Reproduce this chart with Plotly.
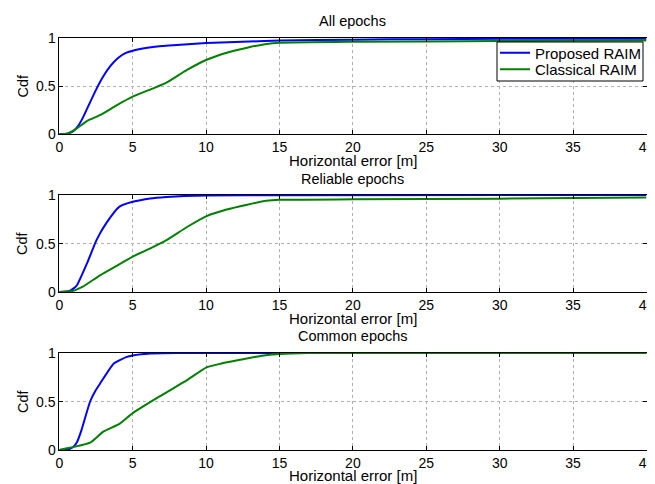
import plotly.graph_objects as go

# ---- data ----
titles = ["All epochs", "Reliable epochs", "Common epochs"]
series_names = ["Proposed RAIM", "Classical RAIM"]
x_ticks = [0, 5, 10, 15, 20, 25, 30, 35, 40]
y_ticks = [0, 0.5, 1]
y_tick_text = ["0", "0.5", "1"]

prop_all_x = [0, 0.5, 0.8, 1.0, 1.3, 1.6, 2.0, 2.5, 3.0, 3.5, 4.0, 4.5, 5, 6, 7, 8, 10, 12, 15, 20, 25, 30, 40]
prop_all_y = [0, 0.005, 0.02, 0.04, 0.09, 0.17, 0.30, 0.46, 0.60, 0.71, 0.79, 0.84, 0.865, 0.895, 0.915, 0.925, 0.945, 0.955, 0.97, 0.98, 0.985, 0.988, 0.99]
clas_all_x = [0, 0.6, 1.2, 1.9, 2.8, 3.9, 5.0, 6.4, 7.3, 8.7, 10.0, 11.4, 12.8, 14.1, 15, 20, 30, 40]
clas_all_y = [0, 0.01, 0.062, 0.14, 0.20, 0.30, 0.39, 0.476, 0.534, 0.666, 0.769, 0.845, 0.897, 0.935, 0.948, 0.958, 0.965, 0.97]

prop_rel_x = [0, 0.7, 1.0, 1.2, 1.9, 2.55, 3.2, 4.1, 5.0, 6.2, 7.3, 8.5, 10, 15, 40]
prop_rel_y = [0, 0.01, 0.04, 0.07, 0.30, 0.54, 0.71, 0.88, 0.93, 0.965, 0.98, 0.99, 0.995, 0.998, 1.0]
clas_rel_x = [0, 0.9, 1.6, 2.8, 3.9, 5.0, 6.2, 7.3, 8.7, 10.0, 11.4, 12.8, 14.1, 15, 20, 30, 40]
clas_rel_y = [0, 0.01, 0.055, 0.175, 0.27, 0.365, 0.45, 0.535, 0.67, 0.78, 0.85, 0.90, 0.94, 0.95, 0.955, 0.962, 0.975]

prop_com_x = [0, 0.7, 1.0, 1.2, 1.5, 2.1, 2.5, 2.8, 3.7, 4.6, 5.0, 6.2, 8, 40]
prop_com_y = [0, 0.01, 0.04, 0.08, 0.20, 0.50, 0.62, 0.69, 0.89, 0.96, 0.975, 0.995, 1.0, 1.0]
clas_com_x = [0, 0.95, 2.1, 3.0, 4.1, 5.0, 6.8, 8.7, 10.0, 11.0, 12.3, 13.7, 15, 17, 28, 40]
clas_com_y = [0, 0.03, 0.075, 0.19, 0.27, 0.38, 0.55, 0.72, 0.85, 0.89, 0.93, 0.97, 0.99, 1.0, 1.0, 1.0]

panels = [
    (prop_all_x, prop_all_y, clas_all_x, clas_all_y),
    (prop_rel_x, prop_rel_y, clas_rel_x, clas_rel_y),
    (prop_com_x, prop_com_y, clas_com_x, clas_com_y),
]

# ---- layout (page body has an 8px margin, so work in shifted pixels) ----
OFF = 8
W, H = 655, 484


def px_x(v):
    return (v - OFF) / W


def px_y(v):
    return 1 - (v - OFF) / H


x_dom = [px_x(59.3), px_x(646.5)]
y_px = [(37.7, 134.3), (195.0, 292.0), (353.0, 450.0)]
title_off = [16.5, 16.0, 17.0]
xlabel_off = [26.5, 26.5, 25.0]
colors = ["#0000FF", "#008000"]
FONT = "Liberation Sans, Arial, Helvetica, sans-serif"
leg_y = [53.0, 69.5]

fig = go.Figure()
legend_common = dict(
    x=px_x(495), xanchor="left", yanchor="middle",
    borderwidth=0, bgcolor="rgba(0,0,0,0)",
    font=dict(size=15, family=FONT), tracegroupgap=0, itemwidth=30,
)
layout = dict(
    width=W, height=H, autosize=False,
    margin=dict(l=0, r=0, t=0, b=0, autoexpand=False),
    paper_bgcolor="white", plot_bgcolor="white",
    font=dict(family=FONT, size=14, color="black"),
    showlegend=True,
    legend=dict(y=px_y(leg_y[0]), **legend_common),
    legend2=dict(y=px_y(leg_y[1]), **legend_common),
    shapes=[dict(
        type="rect", xref="paper", yref="paper",
        x0=px_x(497), x1=px_x(643), y0=px_y(81), y1=px_y(42),
        line=dict(color="black", width=1), fillcolor="white", layer="above",
    )],
)
annotations = []
for i, (px, py, cx, cy) in enumerate(panels):
    xa = "x" if i == 0 else f"x{i+1}"
    ya = "y" if i == 0 else f"y{i+1}"
    for j, (xs, ys) in enumerate([(px, py), (cx, cy)]):
        fig.add_trace(go.Scatter(
            x=xs, y=ys, mode="lines", name=series_names[j],
            line=dict(color=colors[j], width=2, shape="spline", smoothing=0.5),
            xaxis=xa, yaxis=ya, showlegend=(i == 0), hoverinfo="skip",
            legend="legend" if j == 0 else "legend2",
        ))
    top, bot = y_px[i]
    kx = "xaxis" if i == 0 else f"xaxis{i+1}"
    ky = "yaxis" if i == 0 else f"yaxis{i+1}"
    layout[kx] = dict(
        domain=x_dom, anchor=ya, range=[0, 40], tickvals=x_ticks,
        ticktext=[str(v) for v in x_ticks],
        ticks="inside", ticklen=4, tickcolor="black", mirror="allticks",
        showline=True, linecolor="black", linewidth=1,
        showgrid=True, gridcolor="#b0b0b0", griddash="dot", gridwidth=1,
        zeroline=False, tickfont=dict(size=14), fixedrange=True,
        automargin=False,
    )
    layout[ky] = dict(
        domain=[px_y(bot), px_y(top)], anchor=xa, range=[0, 1],
        tickvals=y_ticks, showticklabels=False,
        ticks="inside", ticklen=4, tickcolor="black", mirror="allticks",
        showline=True, linecolor="black", linewidth=1,
        showgrid=True, gridcolor="#b0b0b0", griddash="dot", gridwidth=1,
        zeroline=False, fixedrange=True, automargin=False,
    )
    # y tick labels placed close to the axis (as in the reference)
    for v, t in zip(y_ticks, y_tick_text):
        annotations.append(dict(
            text=t, xref="paper", yref=ya, x=px_x(57.5), y=v,
            xanchor="right", yanchor="middle", showarrow=False,
            font=dict(size=14, family=FONT),
        ))
    annotations.append(dict(
        text=titles[i], xref="paper", yref="paper",
        x=(x_dom[0] + x_dom[1]) / 2, y=px_y(top - title_off[i]),
        xanchor="center", yanchor="middle", showarrow=False,
        font=dict(size=14.5, family=FONT),
    ))
    annotations.append(dict(
        text="Horizontal error [m]", xref="paper", yref="paper",
        x=(x_dom[0] + x_dom[1]) / 2, y=px_y(bot + xlabel_off[i]),
        xanchor="center", yanchor="middle", showarrow=False,
        font=dict(size=15, family=FONT),
    ))
    annotations.append(dict(
        text="Cdf", xref="paper", yref="paper",
        x=px_x(22.5), y=px_y((top + bot) / 2), textangle=-90,
        xanchor="center", yanchor="middle", showarrow=False,
        font=dict(size=14.5, family=FONT),
    ))
layout["annotations"] = annotations
fig.update_layout(**layout)
fig.write_html("out.html")
